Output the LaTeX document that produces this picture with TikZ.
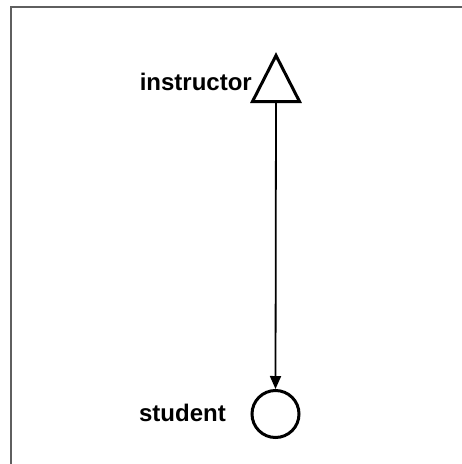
\documentclass[tikz,border=0pt]{standalone}
\usepackage{fontspec}
\setmainfont{Liberation Sans}
\usetikzlibrary{arrows.meta}

\begin{document}
\begin{tikzpicture}[x=1pt, y=-1pt, line join=miter,
  rolelabel/.style={anchor=base east, inner sep=0pt, font=\fontsize{24}{29}\selectfont\bfseries},
  actorshape/.style={draw, line width=3pt, inner sep=0pt}]

  %% ════ 边框（只见上、左两边）════
  \draw[line width=1.6pt, color={rgb,255:red,95;green,95;blue,95}] (11,464) -- (11,7) -- (462,7);

  %% ════ 图形 ════
  \draw[line width=3pt] (276,55.5) -- (299.5,101.5) -- (252.5,101.5) -- cycle;
  \coordinate (instructor) at (276,103);
  \node[actorshape, circle, minimum size=47pt] (student) at (275.5,414) {};

  %% ════ 标签 ════
  \node[rolelabel] (instructorlabel) at (252,90) {instructor};
  \node[rolelabel] (studentlabel) at (226,421) {student};

  %% ════ 连线 ════
  \draw[line width=1.8pt, -{Triangle[length=13pt,width=11pt]}] (instructor) -- (student.north);

  \pgfresetboundingbox
  \path[use as bounding box] (0,0) rectangle (462,464);
\end{tikzpicture}
\end{document}
